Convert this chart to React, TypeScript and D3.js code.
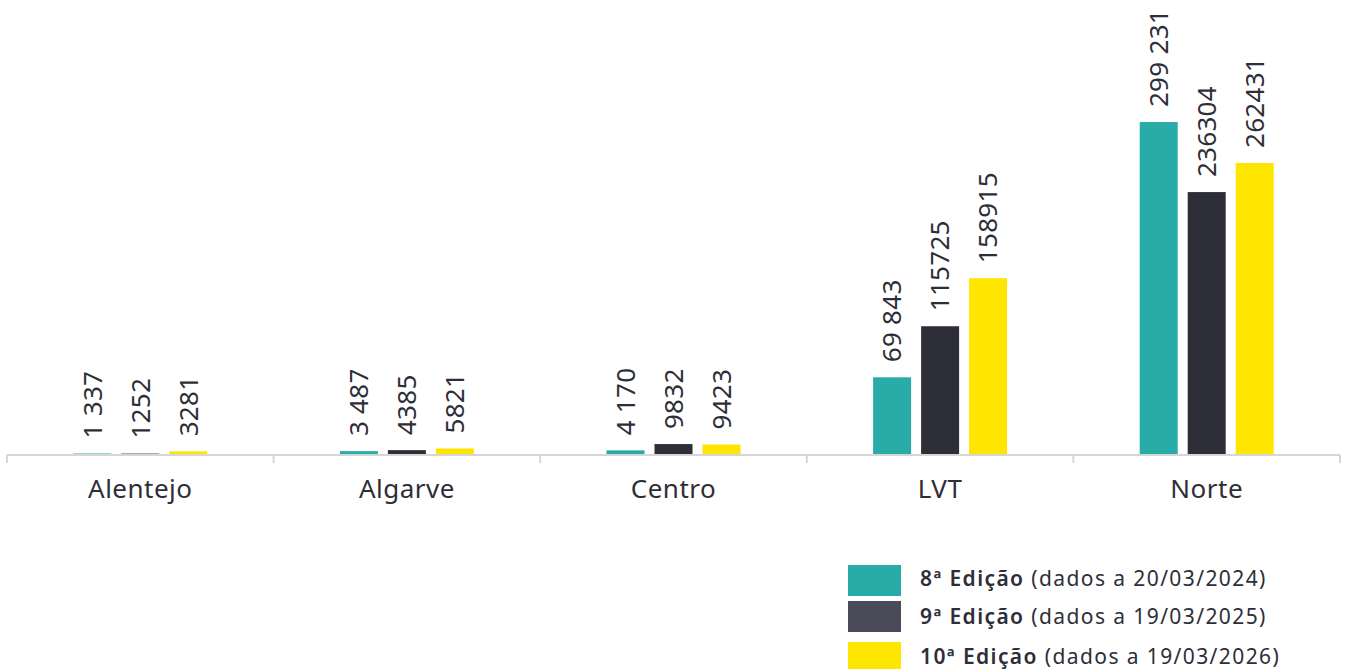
import React from "react";
import * as d3 from "d3";

const categories = ["Alentejo", "Algarve", "Centro", "LVT", "Norte"];
const seriesNames = ["8ª Edição", "9ª Edição", "10ª Edição"];
const seriesDates = ["(dados a 20/03/2024)", "(dados a 19/03/2025)", "(dados a 19/03/2026)"];
const ed8Values = [1337, 3487, 4170, 69843, 299231];
const ed9Values = [1252, 4385, 9832, 115725, 236304];
const ed10Values = [3281, 5821, 9423, 158915, 262431];
const ed8Labels = ["1 337", "3 487", "4 170", "69 843", "299 231"];
const ed9Labels = ["1252", "4385", "9832", "115725", "236304"];
const ed10Labels = ["3281", "5821", "9423", "158915", "262431"];

const seriesValues = [ed8Values, ed9Values, ed10Values];
const seriesLabels = [ed8Labels, ed9Labels, ed10Labels];
const barColors = ["#29aca8", "#2e2e38", "#ffe600"];
const legendColors = ["#29aca8", "#4a4a58", "#ffe600"];
const textColor = "#2e2e38";
const FONT = "'Noto Sans', sans-serif";

export default function App() {
  const W = 1348;
  const H = 669;
  const baseY = 455;
  const x = d3.scaleBand<string>().domain(categories).range([7, 1340]).padding(0);
  const inner = d3
    .scaleBand<number>()
    .domain([0, 1, 2])
    .range([-67, 67])
    .paddingInner(10 / 48)
    .paddingOuter(0);
  const y = d3.scaleLinear().domain([0, 300000]).range([baseY, 121.2]);

  const tickXs = [...categories.map((c) => x(c)!), 1340];

  const legendRows = [
    { sq: 565, base: 586 },
    { sq: 601, base: 624 },
    { sq: 642, base: 664 },
  ];

  return (
    <svg
      width={W}
      height={H}
      style={{ position: "absolute", left: 0, top: 0, background: "#fff" }}
      fontFamily={FONT}
    >
      {/* bars */}
      {categories.map((c, ci) => {
        const cx = x(c)! + x.bandwidth() / 2;
        return (
          <g key={c}>
            {seriesValues.map((vals, si) => {
              const bx = cx + inner(si)!;
              const top = y(vals[ci]);
              return (
                <g key={si}>
                  <rect
                    x={bx}
                    y={top}
                    width={inner.bandwidth()}
                    height={baseY - top}
                    fill={barColors[si]}
                  />
                  <text
                    transform={`translate(${bx + inner.bandwidth() / 2},${top - 15}) rotate(-90)`}
                    dy="0.36em"
                    fontSize={26}
                    letterSpacing={0.3}
                    fill={textColor}
                    textAnchor="start"
                  >
                    {seriesLabels[si][ci]}
                  </text>
                </g>
              );
            })}
          </g>
        );
      })}

      {/* axis */}
      <line x1={7} x2={1340} y1={baseY} y2={baseY} stroke="#d6d6d6" strokeWidth={2} />
      {tickXs.map((tx, i) => (
        <line key={i} x1={tx} x2={tx} y1={baseY} y2={baseY + 8} stroke="#d6d6d6" strokeWidth={2} />
      ))}
      {categories.map((c) => (
        <text
          key={c}
          x={x(c)! + x.bandwidth() / 2}
          y={498}
          textAnchor="middle"
          fontSize={26}
          letterSpacing={0.5}
          fill={textColor}
        >
          {c}
        </text>
      ))}

      {/* legend */}
      {seriesNames.map((n, i) => (
        <g key={n}>
          <rect x={848} y={legendRows[i].sq} width={53} height={31} fill={legendColors[i]} />
          <text x={920} y={legendRows[i].base} fontSize={21} letterSpacing={1.4} fill={textColor}>
            <tspan fontWeight={600}>{n}</tspan>
            <tspan> {seriesDates[i]}</tspan>
          </text>
        </g>
      ))}
    </svg>
  );
}
